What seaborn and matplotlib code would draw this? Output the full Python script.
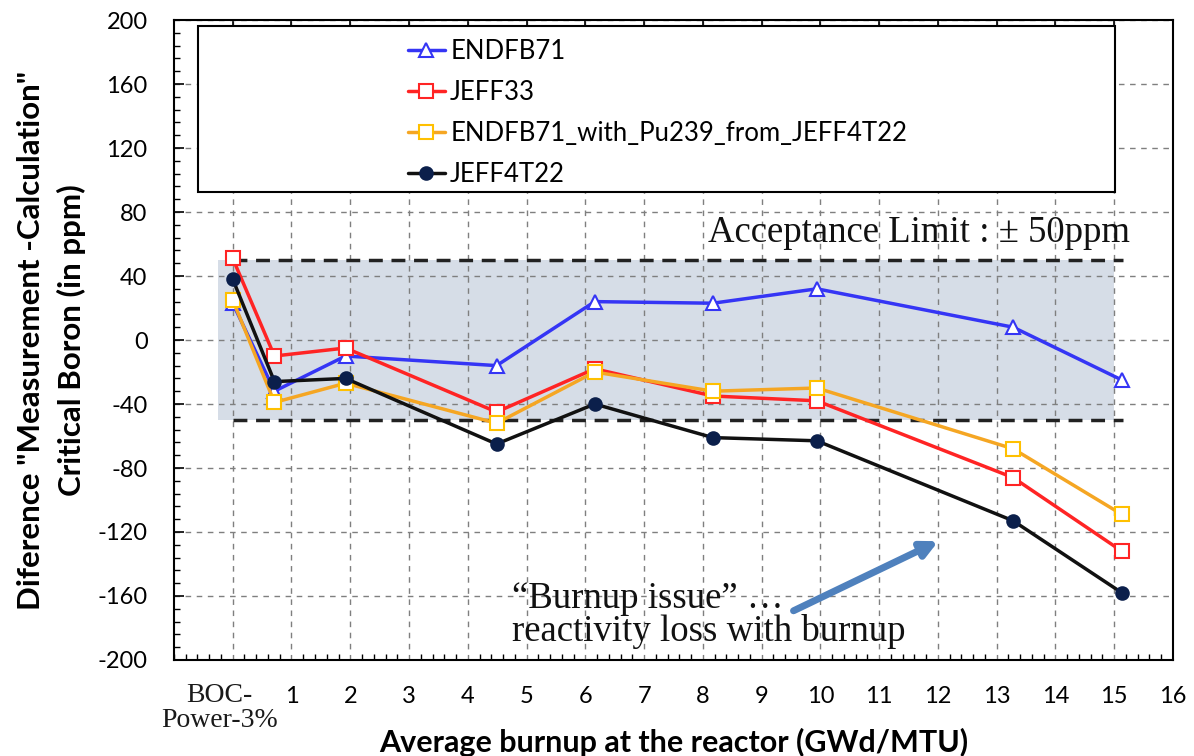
import numpy as np
import pandas as pd
import seaborn as sns
import matplotlib.pyplot as plt
from matplotlib.patches import Rectangle
from matplotlib.ticker import MultipleLocator

# burnup points (GWd/MTU), 0 = BOC power 3%
burnup = [0, 0.71, 1.92, 4.49, 6.16, 8.17, 9.94, 13.28, 15.13]

endfb71 = [23, -32, -10, -16, 24, 23, 32, 8, -25]
jeff33 = [51, -10, -5, -45, -18, -35, -38, -86, -132]
endfb71_pu = [25, -39, -27, -52, -20, -32, -30, -68, -109]
jeff4t22 = [38, -26, -24, -65, -40, -61, -63, -113, -158]

names = ["ENDFB71", "JEFF33", "ENDFB71_with_Pu239_from_JEFF4T22", "JEFF4T22"]
boc_label = "BOC-\nPower-3%"
xtick_labels = [""] + [str(i) for i in range(1, 17)]
limit = 50

sns.set_theme(style="white")
plt.rcParams["font.family"] = ["Lato", "DejaVu Sans"]
plt.rcParams["axes.unicode_minus"] = False
plt.rcParams["text.color"] = "black"
plt.rcParams["axes.labelcolor"] = "black"
plt.rcParams["xtick.labelcolor"] = "black"
plt.rcParams["ytick.labelcolor"] = "black"

fig = plt.figure(figsize=(11.94, 7.56), dpi=100)
ax = fig.add_axes([0.1457, 0.127, 0.8367, 0.8465])

df = pd.DataFrame({"burnup": burnup * 4,
                   "diff": endfb71 + jeff33 + endfb71_pu + jeff4t22,
                   "lib": np.repeat(names, len(burnup))})

styles = {
    names[0]: dict(color="#3535f5", marker="^", mfc="white", mec="#3535f5", ms=10),
    names[1]: dict(color="#ff2424", marker="s", mfc="white", mec="#ff2424", ms=10),
    names[2]: dict(color="#f5a623", marker="s", mfc="white", mec="#ffc000", ms=10),
    names[3]: dict(color="#111111", marker="o", mfc="#0b1f4b", mec="#0b1f4b", ms=9),
}
for name in names:
    st = styles[name]
    sns.lineplot(data=df[df["lib"] == name], x="burnup", y="diff", ax=ax,
                 label=name, color=st["color"], marker=st["marker"],
                 markerfacecolor=st["mfc"], markeredgecolor=st["mec"],
                 markeredgewidth=1.5, markersize=st["ms"], linewidth=2.5,
                 zorder=3)

# acceptance band
ax.fill_between([-0.25, 15.0], -limit, limit, color="#d6dde7", zorder=0.3, lw=0)
ax.plot([0, 15.15], [limit, limit], color="#222222", ls=(0, (4, 2.5)), lw=2.5, zorder=2)
ax.plot([0, 15.15], [-limit, -limit], color="#222222", ls=(0, (4, 2.5)), lw=2.5, zorder=2)
ax.text(15.27, 67, "Acceptance Limit : \u00b1 50ppm", family="Liberation Serif",
        fontsize=26.5, ha="right", va="center", color="#111111")

ax.set_xlim(-1, 16)
ax.set_ylim(-200, 200)
ax.set_xticks(range(0, 17))
ax.set_xticklabels(xtick_labels, fontsize=17)
# first tick label, set in serif like the original
ax.text(-0.22, -0.036, boc_label, transform=ax.get_xaxis_transform(),
        family="Liberation Serif", fontsize=20, ha="center", va="top",
        multialignment="center", linespacing=1.0, color="#1a1a1a")
ax.set_yticks(range(-200, 201, 40))
ax.tick_params(axis="y", labelsize=17, pad=19)
ax.xaxis.set_minor_locator(MultipleLocator(0.2))
ax.yaxis.set_minor_locator(MultipleLocator(8))
ax.tick_params(which="major", direction="in", length=7, width=1.2, color="black")
ax.tick_params(which="minor", direction="in", length=4, width=1, color="black")
ax.tick_params(axis="x", which="major", top=True, pad=19)
ax.tick_params(axis="x", which="minor", bottom=True)
ax.tick_params(axis="y", which="both", left=True)

ax.grid(True, which="major", color="#7f7f7f", ls=(0, (4, 4)), lw=1)
ax.set_axisbelow(True)
for sp in ax.spines.values():
    sp.set_color("black")
    sp.set_linewidth(1.5)

ax.set_xlabel("Average burnup at the reactor (GWd/MTU)", fontsize=22,
              fontweight="bold")
ax.xaxis.set_label_coords(0.5, -0.106)
ax.set_ylabel("Diference \"Measurement -Calculation\"\nCritical Boron (in ppm)",
              fontsize=22.5, fontweight="bold", labelpad=8, linespacing=1.5)

# annotation
ax.annotate("", xy=(12.05, -125), xytext=(9.5, -170),
            arrowprops=dict(arrowstyle="-|>", color="#4f81bd", lw=5,
                            mutation_scale=24), zorder=4)
ax.text(4.75, -172, "\u201cBurnup issue\u201d \u2026\nreactivity loss with burnup",
        family="Liberation Serif", fontsize=26.5, ha="left", va="center",
        linespacing=0.95, color="#111111", zorder=4)

# legend box
ax.add_patch(Rectangle((0.024, 0.731), 0.918, 0.26, transform=ax.transAxes,
                       facecolor="white", edgecolor="black", lw=1.5, zorder=5))
leg = ax.legend(loc="upper left", bbox_to_anchor=(0.234, 0.97), frameon=False,
                fontsize=18.5, handlelength=1.45, handletextpad=0.2,
                labelspacing=0.62, borderaxespad=0, borderpad=0)
leg.set_zorder(6)

fig.savefig("out.png", dpi=100)
